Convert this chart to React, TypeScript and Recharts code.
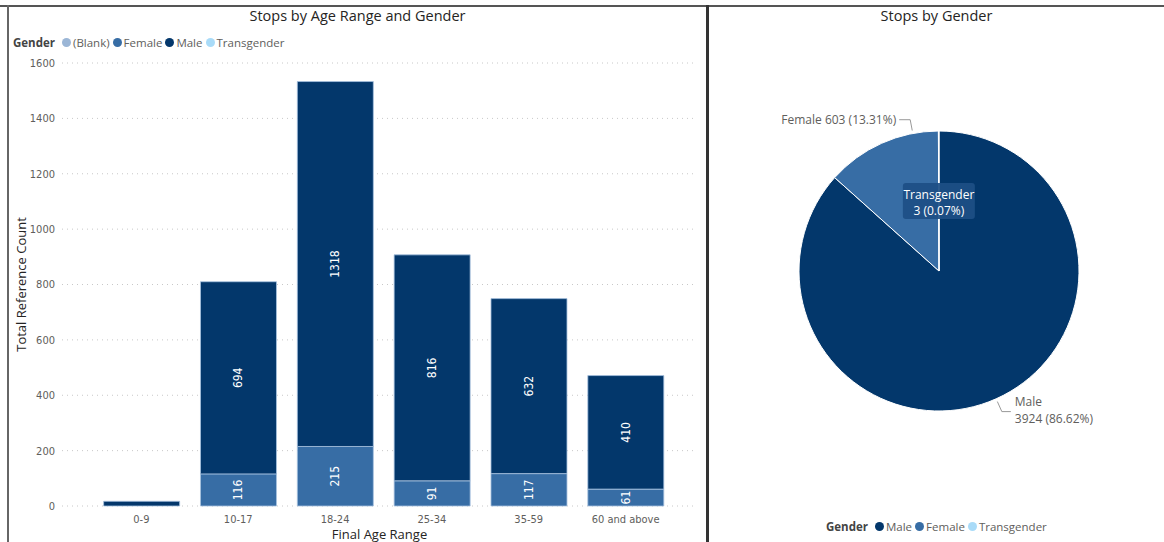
import React from 'react';
import {
  BarChart,
  Bar,
  XAxis,
  YAxis,
  CartesianGrid,
  LabelList,
  PieChart,
  Pie,
  Cell,
} from 'recharts';

// age range chart
const ageRanges = ['0-9', '10-17', '18-24', '25-34', '35-59', '60 and above'];
const femaleCounts = [0, 116, 215, 91, 117, 61];
const maleCounts = [17, 694, 1318, 816, 632, 410];
const yTicks = [0, 200, 400, 600, 800, 1000, 1200, 1400, 1600];

// gender pie
const genders = ['Male', 'Female', 'Transgender'];
const genderCounts = [3924, 603, 3];

const COLORS: Record<string, string> = {
  '(Blank)': '#9bb6d6',
  Female: '#376da5',
  Male: '#03376b',
  Transgender: '#a9dbf8',
};

const barData = ageRanges.map((range, i) => ({
  range,
  female: femaleCounts[i],
  male: maleCounts[i],
}));

const total = genderCounts.reduce((a, b) => a + b, 0);
const pieData = genders.map((name, i) => ({
  name,
  value: genderCounts[i],
  pct: ((genderCounts[i] / total) * 100).toFixed(2) + '%',
}));

const FONT = '"Open Sans", "Noto Sans", sans-serif';
const TICK_FONT = '"DejaVu Sans Condensed", "Liberation Sans Narrow", sans-serif';
const GREY = '#605e5c';
const RADIAN = Math.PI / 180;

const barLabel = (props: any) => {
  const { x, y, width, height, value } = props;
  if (!value || height < 16) return null;
  const cx = x + width / 2;
  const cy = y + height / 2;
  return (
    <text
      x={cx}
      y={cy}
      transform={`rotate(-90 ${cx} ${cy})`}
      textAnchor="middle"
      dominantBaseline="central"
      fill="#fff"
      fontSize={12}
      fontFamily={TICK_FONT}
    >
      {value}
    </text>
  );
};

function Legend({ items, style }: { items: string[]; style: React.CSSProperties }) {
  return (
    <div
      style={{
        position: 'absolute',
        display: 'flex',
        alignItems: 'center',
        fontFamily: FONT,
        fontSize: 11.5,
        color: GREY,
        whiteSpace: 'nowrap',
        ...style,
      }}
    >
      <span style={{ fontWeight: 700, color: '#444', marginRight: 7 }}>Gender</span>
      {items.map((it) => (
        <span key={it} style={{ display: 'flex', alignItems: 'center', marginRight: 3 }}>
          <span
            style={{
              width: 9,
              height: 9,
              borderRadius: 5,
              background: COLORS[it],
              marginRight: 2,
            }}
          />
          {it}
        </span>
      ))}
    </div>
  );
}

const pieLabel = (props: any) => {
  const { cx, cy, outerRadius, startAngle, endAngle, index } = props;
  const d = pieData[index];
  if (d.name === 'Transgender') {
    const a = (startAngle + endAngle) / 2;
    const x = cx + outerRadius * 0.5 * Math.cos(-a * RADIAN);
    const y = cy + outerRadius * 0.5 * Math.sin(-a * RADIAN);
    return (
      <g>
        <rect x={x - 36} y={y - 18} width={72} height={36} rx={3} fill="#1d4f86" fillOpacity={0.92} />
        <text x={x} y={y - 7} textAnchor="middle" dominantBaseline="central" fill="#fff" fontSize={12} fontFamily={FONT}>
          {d.name}
        </text>
        <text x={x} y={y + 9} textAnchor="middle" dominantBaseline="central" fill="#fff" fontSize={12} fontFamily={FONT}>
          {`${d.value} (${d.pct})`}
        </text>
      </g>
    );
  }
  // female label is pulled toward the end of its slice, as in the report
  const frac = d.name === 'Female' ? 0.78 : 0.5;
  const a = startAngle + (endAngle - startAngle) * frac;
  const cos = Math.cos(-a * RADIAN);
  const sin = Math.sin(-a * RADIAN);
  const sx = cx + (outerRadius + 3) * cos;
  const sy = cy + (outerRadius + 3) * sin;
  const mx = cx + (outerRadius + 14) * cos;
  const my = cy + (outerRadius + 14) * sin;
  const right = cos >= 0;
  const ex = mx + (right ? 9 : -11);
  const tx = ex + (right ? 4 : -3);
  return (
    <g>
      <polyline points={`${sx},${sy} ${mx},${my} ${ex},${my}`} fill="none" stroke="#999" strokeWidth={1} />
      {right ? (
        <text x={tx} y={my} fill={GREY} fontSize={12} fontFamily={FONT} textAnchor="start">
          <tspan x={tx} dy={-6}>{d.name}</tspan>
          <tspan x={tx} dy={17}>{`${d.value} (${d.pct})`}</tspan>
        </text>
      ) : (
        <text x={tx} y={my} dominantBaseline="central" fill={GREY} fontSize={12} fontFamily={FONT} textAnchor="end">
          {`${d.name} ${d.value} (${d.pct})`}
        </text>
      )}
    </g>
  );
};

export default function App() {
  return (
    <div
      style={{
        position: 'absolute',
        left: 0,
        top: 0,
        width: 1164,
        height: 542,
        background: '#fff',
        overflow: 'hidden',
      }}
    >
      {/* frame lines */}
      <div style={{ position: 'absolute', left: 0, top: 5, width: 1164, height: 2, background: '#555' }} />
      <div style={{ position: 'absolute', left: 7, top: 5, width: 2, height: 537, background: '#666' }} />
      <div style={{ position: 'absolute', left: 706, top: 5, width: 3, height: 537, background: '#333' }} />

      {/* left panel */}
      <div
        style={{
          position: 'absolute',
          left: 9,
          width: 697,
          top: 6,
          textAlign: 'center',
          fontFamily: FONT,
          fontSize: 14.5,
          color: '#252423',
        }}
      >
        Stops by Age Range and Gender
      </div>
      <Legend items={['(Blank)', 'Female', 'Male', 'Transgender']} style={{ left: 13, top: 35 }} />
      <div style={{ position: 'absolute', left: 0, top: 0 }}>
        <BarChart
          width={708}
          height={542}
          data={barData}
          margin={{ top: 63, right: 11, bottom: 0, left: 0 }}
          barCategoryGap="11%"
        >
          <CartesianGrid vertical={false} stroke="#c8c8c8" strokeDasharray="1 4" />
          <XAxis
            dataKey="range"
            height={36}
            padding={{ left: 31, right: 23 }}
            axisLine={false}
            tickLine={false}
            tickMargin={3}
            tick={{ fontSize: 11, fill: GREY, fontFamily: TICK_FONT }}
            label={{
              value: 'Final Age Range',
              position: 'insideBottom',
              offset: 3,
              style: { fontSize: 13, fill: '#252423', fontFamily: FONT },
            }}
          />
          <YAxis
            width={62}
            domain={[0, 1600]}
            ticks={yTicks}
            axisLine={false}
            tickLine={false}
            tickSize={0}
            tickMargin={7}
            tick={{ fontSize: 11, fill: GREY, fontFamily: TICK_FONT }}
            label={{
              value: 'Total Reference Count',
              angle: -90,
              position: 'insideLeft',
              offset: 21,
              style: { textAnchor: 'middle', fontSize: 13, fill: '#252423', fontFamily: FONT },
            }}
          />
          <Bar dataKey="female" stackId="g" fill={COLORS.Female} stroke="#a8c3e0" strokeWidth={0.8} isAnimationActive={false}>
            <LabelList dataKey="female" content={barLabel} />
          </Bar>
          <Bar dataKey="male" stackId="g" fill={COLORS.Male} stroke="#a8c3e0" strokeWidth={0.8} isAnimationActive={false}>
            <LabelList dataKey="male" content={barLabel} />
          </Bar>
        </BarChart>
      </div>

      {/* right panel */}
      <div
        style={{
          position: 'absolute',
          left: 709,
          width: 455,
          top: 6,
          textAlign: 'center',
          fontFamily: FONT,
          fontSize: 14.5,
          color: '#252423',
        }}
      >
        Stops by Gender
      </div>
      <div style={{ position: 'absolute', left: 709, top: 0 }}>
        <PieChart width={455} height={542}>
          <Pie
            data={pieData}
            dataKey="value"
            nameKey="name"
            cx={225}
            cy={266}
            outerRadius={140}
            startAngle={90}
            endAngle={-270}
            stroke="#fff"
            strokeWidth={1}
            label={pieLabel}
            labelLine={false}
            isAnimationActive={false}
          >
            {pieData.map((d) => (
              <Cell key={d.name} fill={COLORS[d.name]} />
            ))}
          </Pie>
        </PieChart>
      </div>
      <Legend items={['Male', 'Female', 'Transgender']} style={{ left: 826, top: 519 }} />
    </div>
  );
}
